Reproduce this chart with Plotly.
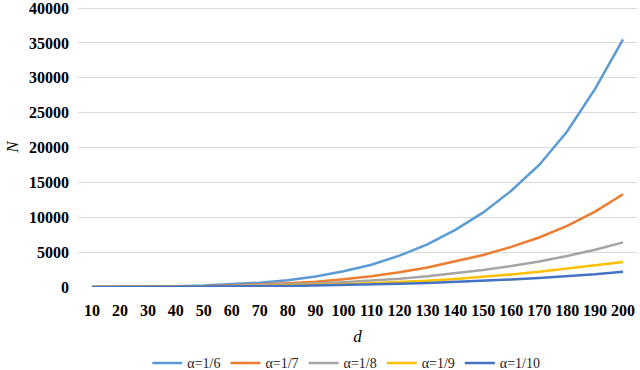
import plotly.graph_objects as go

# d values (categories on the x axis)
d_values = [10, 20, 30, 40, 50, 60, 70, 80, 90, 100,
            110, 120, 130, 140, 150, 160, 170, 180, 190, 200]

# N for each alpha
n_a6 = [5, 20, 50, 110, 220, 380, 620, 970, 1500, 2250,
        3200, 4500, 6100, 8200, 10700, 13800, 17500, 22300, 28400, 35500]
n_a7 = [3, 12, 30, 65, 125, 215, 340, 520, 760, 1100,
        1550, 2100, 2800, 3650, 4600, 5750, 7100, 8750, 10800, 13300]
n_a8 = [1, 7, 20, 45, 88, 150, 235, 350, 500, 690,
        920, 1200, 1550, 1950, 2450, 3000, 3650, 4450, 5350, 6400]
n_a9 = [1, 4, 12, 27, 52, 90, 140, 210, 300, 410,
        540, 700, 900, 1150, 1450, 1800, 2200, 2650, 3100, 3600]
n_a10 = [1, 3, 8, 18, 35, 60, 95, 140, 200, 270,
         360, 460, 580, 720, 880, 1070, 1280, 1520, 1830, 2200]

series_names = ["α=1/6", "α=1/7", "α=1/8", "α=1/9", "α=1/10"]
series_data = [n_a6, n_a7, n_a8, n_a9, n_a10]
colors = ["#5B9BD5", "#ED7D31", "#A5A5A5", "#FFC000", "#4472C4"]

x_labels = [str(v) for v in d_values]

fig = go.Figure()
for name, ys, col in zip(series_names, series_data, colors):
    fig.add_trace(go.Scatter(x=x_labels, y=ys, name=name, mode="lines",
                             line=dict(color=col, width=2.5)))

serif = "Liberation Serif, Times New Roman, serif"

fig.update_layout(
    width=640, height=370,
    margin=dict(l=78, r=3, t=7, b=83, autoexpand=False),
    plot_bgcolor="white", paper_bgcolor="white",
    font=dict(family=serif, color="black"),
    showlegend=True,
    legend=dict(orientation="h", x=0.48, xanchor="center", y=-0.33, yanchor="bottom",
                font=dict(size=14, family=serif, color="#222"),
                tracegroupgap=0),
)

fig.update_xaxes(
    type="category", range=[-0.5, len(d_values) - 0.5],
    showgrid=False, showline=False, zeroline=False,
    tickfont=dict(size=16, family=serif, weight="bold"),
    ticklabelstandoff=12,
    title=dict(text="<i>d</i>", font=dict(size=17, family=serif), standoff=12),
)
fig.update_yaxes(
    range=[0, 40150], tickvals=list(range(0, 40001, 5000)), tickformat="d",
    showgrid=True, gridcolor="#D9D9D9", gridwidth=1,
    zeroline=False, showline=False,
    tickfont=dict(size=16, family=serif, weight="bold"),
    ticklabelstandoff=8, ticklabeloverflow="allow",
    title=dict(text="<i>N</i>", font=dict(size=17, family=serif), standoff=6),
)

# drop the page's default body margin so the figure sits at the window's corner
fig.write_html("out.html", config={"displayModeBar": False},
               post_script="document.body.style.margin='0px';")
